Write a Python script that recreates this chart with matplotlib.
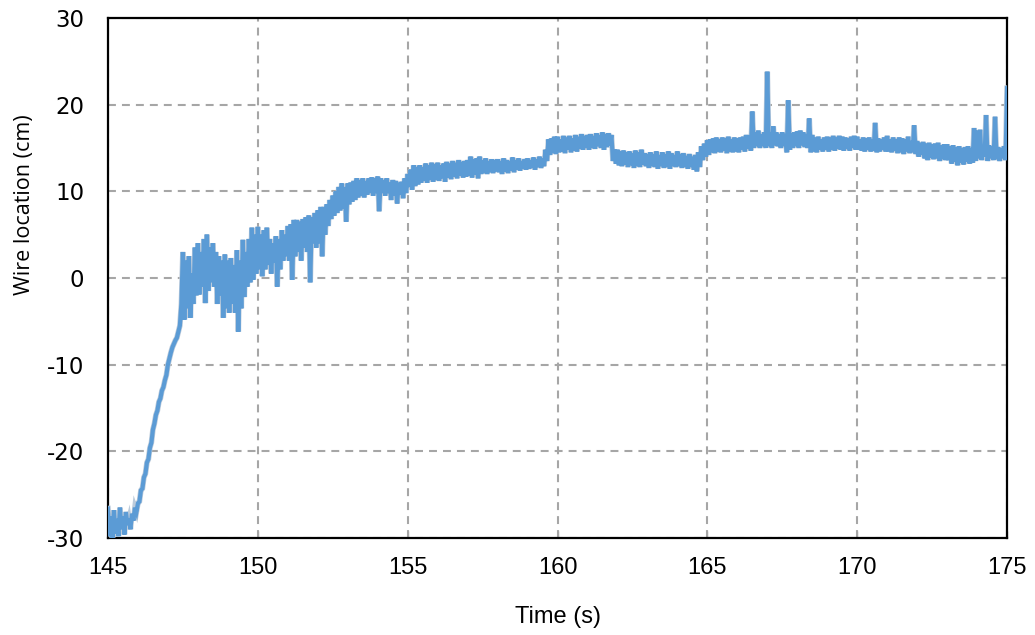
import matplotlib
matplotlib.use("Agg")
import matplotlib.pyplot as plt
import matplotlib.patheffects as pe
import numpy as np

plt.rcParams["axes.unicode_minus"] = False

# the trace swings between a high and a low reading every 0.1 s;
# highs are read at 145.0, 145.1, ... 175.0 and lows half a step later
t_high = np.arange(1450, 1751) / 10.0
t_low = np.arange(14505, 17500, 10) / 100.0

# wire location (cm), one row per second
high_cm = [
    -26.6, -27.5, -26.8, -27.8, -26.5, -27.5, -27.0, -27.8, -27.2, -26.5,   # 145
    -26.0, -24.5, -23.0, -21.3, -19.6, -17.5, -15.8, -14.3, -13.0, -11.8,   # 146
    -10.0, -8.6, -7.6, -6.9, -5.5, 3.0, 2.0, 2.5, 0.5, 3.5,                 # 147
    4.0, 3.0, 4.5, 5.0, 3.5, 4.0, 3.0, 2.5, 2.0, 2.7,                       # 148
    2.0, 2.3, 1.5, 3.2, 2.0, 4.4, 3.0, 4.5, 5.8, 5.0,                       # 149
    5.9, 5.0, 5.5, 5.8, 4.5, 4.0, 4.8, 4.5, 5.5, 5.0,                       # 150
    6.0, 6.2, 6.7, 6.7, 6.5, 6.8, 7.0, 7.2, 7.0, 7.5,                       # 151
    7.8, 8.2, 8.2, 8.5, 9.0, 9.5, 10.0, 10.5, 10.9, 10.5,                   # 152
    10.9, 11.0, 11.2, 11.5, 11.3, 11.5, 11.2, 11.5, 11.6, 11.5,             # 153
    11.7, 11.5, 11.3, 11.5, 11.0, 11.3, 11.2, 11.0, 11.1, 11.5,             # 154
    12.0, 12.5, 13.0, 12.8, 13.0, 12.8, 13.2, 13.0, 13.3, 13.1,             # 155
    13.3, 13.0, 13.2, 13.4, 13.2, 13.5, 13.3, 13.6, 13.4, 13.5,             # 156
    13.6, 14.0, 13.7, 13.8, 14.0, 13.6, 13.8, 13.5, 13.7, 13.6,             # 157
    13.7, 13.5, 13.8, 13.6, 13.5, 13.9, 13.6, 13.8, 13.5, 13.7,             # 158
    13.8, 13.6, 13.9, 13.7, 14.0, 13.8, 14.8, 16.0, 16.1, 16.3,             # 159
    16.3, 16.0, 16.4, 16.2, 16.4, 16.1, 16.5, 16.3, 16.6, 16.4,             # 160
    16.5, 16.6, 16.4, 16.7, 16.5, 16.8, 16.6, 16.7, 16.5, 14.8,             # 161
    14.8, 14.6, 14.7, 14.5, 14.6, 14.4, 14.7, 14.5, 14.8, 14.4,             # 162
    14.3, 14.5, 14.3, 14.6, 14.2, 14.5, 14.3, 14.6, 14.4, 14.2,             # 163
    14.6, 14.3, 14.4, 14.1, 14.3, 14.0, 14.2, 14.5, 15.2, 15.5,             # 164
    15.9, 16.0, 16.1, 16.2, 16.0, 16.2, 16.1, 16.3, 16.0, 16.2,             # 165
    16.1, 16.2, 16.3, 16.5, 16.4, 19.2, 16.8, 17.0, 16.6, 16.8,             # 166
    23.8, 16.8, 17.5, 16.8, 16.6, 16.8, 16.6, 20.5, 16.7, 16.8,             # 167
    16.9, 17.0, 16.8, 16.6, 18.4, 16.5, 16.2, 16.3, 16.0, 16.2,             # 168
    16.3, 16.2, 16.4, 16.2, 16.4, 16.3, 16.2, 16.1, 16.3, 16.4,             # 169
    16.3, 16.0, 16.2, 16.1, 16.2, 16.0, 17.9, 16.1, 16.0, 16.2,             # 170
    16.4, 16.0, 16.2, 16.0, 16.2, 16.1, 16.0, 16.3, 15.8, 17.6,             # 171
    15.8, 15.6, 15.7, 15.5, 15.6, 15.4, 15.5, 15.6, 15.3, 15.4,             # 172
    15.4, 15.2, 15.3, 15.1, 15.2, 15.0, 15.1, 15.2, 15.0, 17.3,             # 173
    17.0, 17.1, 15.2, 18.8, 15.3, 15.2, 18.6, 15.1, 15.0, 15.2,             # 174
    21.9,                                                                   # 175
]
low_cm = [
    -29.8, -30.0, -29.5, -29.8, -29.0, -29.6, -28.5, -29.0, -28.0, -27.0,   # 145
    -25.8, -24.3, -22.6, -20.9, -19.0, -16.8, -15.3, -13.9, -12.6, -11.2,   # 146
    -9.3, -8.0, -7.2, -6.2, -3.0, -4.8, -3.5, -4.6, -3.0, -2.0,             # 147
    -1.9, -1.0, -2.9, -1.5, -0.5, -1.0, -3.0, -2.0, -4.6, -3.5,             # 148
    -4.0, -3.0, -4.0, -6.2, -3.5, -2.2, -1.0, -0.5, -0.2, 0.5,              # 149
    1.0, 0.2, 1.0, 1.5, 0.5, 1.8, -1.0, 1.0, 2.0, 2.5,                      # 150
    2.0, -0.2, 2.5, 3.0, 2.0, 3.5, 3.0, -0.5, 4.0, 3.5,                     # 151
    4.0, 2.5, 5.0, 6.0, 6.8, 7.2, 7.5, 7.8, 8.0, 6.5,                       # 152
    8.5, 8.8, 9.0, 9.3, 9.5, 9.3, 9.6, 9.8, 9.5, 9.8,                       # 153
    7.7, 9.8, 9.5, 9.8, 9.0, 9.5, 8.6, 9.6, 9.2, 9.8,                       # 154
    10.5, 10.2, 10.6, 10.8, 11.0, 11.2, 11.0, 11.3, 11.1, 11.3,             # 155
    11.2, 11.5, 11.1, 11.6, 11.4, 11.7, 11.5, 11.8, 11.6, 11.7,             # 156
    11.8, 11.6, 11.9, 11.5, 12.0, 12.1, 12.0, 12.2, 12.1, 12.3,             # 157
    12.2, 12.0, 12.3, 12.1, 12.4, 12.2, 12.5, 12.4, 12.6, 12.5,             # 158
    12.6, 12.7, 12.5, 12.8, 12.7, 12.9, 13.5, 14.2, 14.4, 14.3,             # 159
    14.5, 14.6, 14.4, 14.8, 14.5, 14.7, 14.6, 14.9, 14.8, 15.0,             # 160
    14.8, 15.0, 14.9, 15.2, 15.0, 14.8, 15.1, 15.3, 13.5, 13.2,             # 161
    13.0, 12.9, 13.1, 12.8, 13.0, 12.7, 12.9, 12.8, 13.1, 12.9,             # 162
    12.7, 12.9, 12.8, 12.6, 12.9, 12.7, 12.8, 12.6, 12.9, 12.8,             # 163
    12.9, 12.7, 12.8, 12.6, 12.8, 12.5, 12.3, 12.8, 13.6, 14.0,             # 164
    14.2, 14.5, 14.4, 14.6, 14.5, 14.7, 14.4, 14.6, 14.5, 14.6,             # 165
    14.5, 14.8, 14.6, 14.9, 14.7, 15.0, 15.2, 15.0, 15.2, 15.0,             # 166
    15.2, 15.0, 15.3, 15.2, 15.0, 15.2, 14.5, 14.8, 15.0, 15.2,             # 167
    15.0, 15.3, 15.1, 15.0, 14.5, 14.6, 14.5, 14.8, 14.6, 14.8,             # 168
    14.6, 14.8, 14.7, 14.9, 14.8, 14.7, 14.9, 14.7, 15.0, 14.8,             # 169
    14.8, 14.7, 14.6, 14.8, 14.6, 14.7, 14.5, 14.6, 14.8, 14.6,             # 170
    14.6, 14.5, 14.7, 14.4, 14.5, 14.3, 14.6, 14.4, 14.5, 14.3,             # 171
    14.0, 14.2, 13.8, 13.6, 13.9, 13.7, 13.8, 13.5, 13.7, 13.6,             # 172
    13.6, 13.2, 13.4, 13.0, 13.3, 13.1, 13.4, 13.2, 13.3, 13.5,             # 173
    13.8, 13.6, 14.0, 13.5, 13.8, 13.6, 13.7, 13.5, 13.8, 13.6,             # 174
]

x_ticks = [145, 150, 155, 160, 165, 170, 175]
y_ticks = [-30, -20, -10, 0, 10, 20, 30]

# merge highs and lows into one time-ordered trace
n = len(high_cm) + len(low_cm)
time_s = np.empty(n)
location = np.empty(n)
time_s[0::2], time_s[1::2] = t_high, t_low
location[0::2], location[1::2] = high_cm, low_cm

fig = plt.figure(figsize=(10.35, 6.35), dpi=100)
ax = fig.add_axes([0.1043, 0.1528, 0.8687, 0.8189])

ax.plot(time_s, location, color="#5b9bd5", lw=3.0, solid_joinstyle="miter",
        path_effects=[pe.Stroke(linewidth=4.0, foreground="#bccbdb"), pe.Normal()],
        zorder=3)

ax.set_xlim(145, 175)
ax.set_ylim(-30, 30)
ax.set_xticks(x_ticks, labels=[str(v) for v in x_ticks],
              family="Liberation Sans", fontsize=17)
ax.set_yticks(y_ticks, labels=[str(v) for v in y_ticks],
              family="DejaVu Sans", fontsize=16.5)
ax.grid(True, color="#a6a6a6", lw=1.5, linestyle=(0, (3.8, 2.9)))
ax.set_axisbelow(True)

for s in ax.spines.values():
    s.set_color("black")
    s.set_linewidth(1.6)

ax.tick_params(axis="x", direction="in", length=5, width=1, color="#a6a6a6", pad=14)
ax.tick_params(axis="y", length=0, pad=17)

ax.set_xlabel("Time (s)", family="Liberation Sans", fontsize=17, labelpad=19)
ax.set_ylabel("Wire location (cm)", family="Open Sans", fontsize=15.5)
ax.yaxis.set_label_coords(-0.081, 0.64)

fig.savefig("out.png", dpi=100)
plt.close(fig)
